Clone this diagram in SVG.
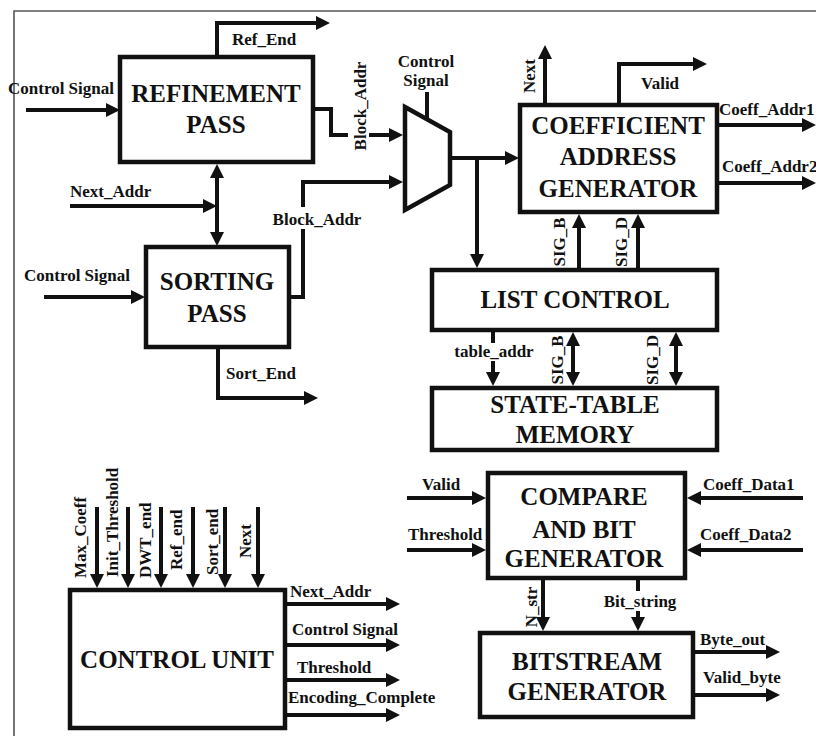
<svg xmlns="http://www.w3.org/2000/svg" width="816" height="736" viewBox="0 0 816 736">
<defs>
<style>
.box{fill:#fff;stroke:#111;stroke-width:4.5}
.w{fill:none;stroke:#111;stroke-width:4}
.a{marker-end:url(#ah)}
.b{marker-start:url(#ah);marker-end:url(#ah)}
text{font-family:'Liberation Serif','Times New Roman',serif;font-weight:bold;fill:#111}
.big{font-size:25px;text-anchor:middle}
.lb{font-size:17px}
.m{text-anchor:middle}
.bg{fill:#fff}
</style>
<marker id="ah" markerUnits="userSpaceOnUse" markerWidth="16" markerHeight="16" refX="9" refY="7" orient="auto-start-reverse">
<path d="M0,0 L14,7 L0,14 z" fill="#111"/>
</marker>
</defs>
<rect width="816" height="736" fill="#fff"/>
<path d="M14,736 V11 H816" fill="none" stroke="#555" stroke-width="1.6"/>

<g id="connectors">
<path class="w a" d="M26,110 H115"/>
<path class="w a" d="M217,57 V23 H325"/>
<path class="w a" d="M70,206 H212"/>
<path class="w b" d="M217,169 V241"/>
<path class="w a" d="M44,297 H140"/>
<path class="w a" d="M289,297 H303 V182 H398"/>
<path class="w a" d="M313,109 H331 V135 H398"/>
<path class="w" d="M427,92 V119"/>
<path class="w a" d="M450,158 H514"/>
<path class="w a" d="M477,158 V263"/>
<path class="w a" d="M545,105 V50"/>
<path class="w a" d="M619,105 V64 H702"/>
<path class="w a" d="M717,125 H811"/>
<path class="w a" d="M717,183 H811"/>
<path class="w a" d="M579,270 V219"/>
<path class="w a" d="M638,270 V219"/>
<path class="w a" d="M493,330 V381"/>
<path class="w b" d="M573,337 V381"/>
<path class="w b" d="M676,337 V381"/>
<path class="w a" d="M218,347 V398 H313"/>
<path class="w a" d="M97,507 V583"/>
<path class="w a" d="M128,507 V583"/>
<path class="w a" d="M161,507 V583"/>
<path class="w a" d="M193,507 V583"/>
<path class="w a" d="M225,507 V583"/>
<path class="w a" d="M258,507 V583"/>
<path class="w a" d="M285,604 H395"/>
<path class="w a" d="M285,645 H395"/>
<path class="w a" d="M285,680 H395"/>
<path class="w a" d="M285,715 H395"/>
<path class="w a" d="M407,498 H481"/>
<path class="w a" d="M407,550 H481"/>
<path class="w a" d="M803,498 H692"/>
<path class="w a" d="M803,550 H692"/>
<path class="w a" d="M543,578 V626"/>
<path class="w a" d="M638,578 V626"/>
<path class="w a" d="M693,652 H775"/>
<path class="w a" d="M693,695 H775"/>
</g>

<g id="refinement">
<rect class="box" x="120" y="57" width="193" height="105"/>
<text class="big" x="216" y="102">REFINEMENT</text>
<text class="big" x="216" y="133">PASS</text>
</g>
<g id="sorting">
<rect class="box" x="146" y="247" width="143" height="100"/>
<text class="big" x="217" y="290">SORTING</text>
<text class="big" x="217" y="322">PASS</text>
</g>
<g id="mux">
<polygon points="405,107 450,132 450,185 405,210" fill="#fff" stroke="#111" stroke-width="4.5" stroke-linejoin="miter"/>
</g>
<g id="coeff_addr_gen">
<rect class="box" x="520" y="105" width="197" height="107"/>
<text class="big" x="618" y="134">COEFFICIENT</text>
<text class="big" x="618" y="165">ADDRESS</text>
<text class="big" x="618" y="197">GENERATOR</text>
</g>
<g id="list_control">
<rect class="box" x="432" y="270" width="285" height="60"/>
<text class="big" x="575" y="308">LIST CONTROL</text>
</g>
<g id="state_table">
<rect class="box" x="432" y="388" width="285" height="62"/>
<text class="big" x="575" y="413">STATE-TABLE</text>
<text class="big" x="575" y="443">MEMORY</text>
</g>
<g id="control_unit">
<rect class="box" x="70" y="590" width="215" height="138"/>
<text class="big" x="177" y="668">CONTROL UNIT</text>
</g>
<g id="compare">
<rect class="box" x="488" y="473" width="197" height="105"/>
<text class="big" x="584" y="505">COMPARE</text>
<text class="big" x="584" y="538">AND BIT</text>
<text class="big" x="584" y="567">GENERATOR</text>
</g>
<g id="bitstream">
<rect class="box" x="480" y="633" width="213" height="84"/>
<text class="big" x="587" y="670">BITSTREAM</text>
<text class="big" x="587" y="700">GENERATOR</text>
</g>

<g id="labels">
<text class="lb" x="8" y="94">Control Signal</text>
<text class="lb" x="232" y="45">Ref_End</text>
<text class="lb" x="70" y="197">Next_Addr</text>
<text class="lb" x="24" y="281">Control Signal</text>
<rect class="bg" x="271" y="207" width="94" height="22"/>
<text class="lb m" x="317" y="225">Block_Addr</text>
<rect class="bg" x="348" y="61" width="21" height="91"/>
<text class="lb m" transform="translate(366,106) rotate(-90)">Block_Addr</text>
<text class="lb m" x="426" y="67">Control</text>
<text class="lb m" x="426" y="86">Signal</text>
<text class="lb m" transform="translate(535,76) rotate(-90)">Next</text>
<text class="lb m" x="660" y="89">Valid</text>
<text class="lb" x="719" y="115">Coeff_Addr1</text>
<text class="lb" x="722" y="172">Coeff_Addr2</text>
<text class="lb m" transform="translate(565,242) rotate(-90)">SIG_B</text>
<text class="lb m" transform="translate(627,242) rotate(-90)">SIG_D</text>
<rect class="bg" x="452" y="343" width="85" height="18"/>
<text class="lb m" x="494" y="357">table_addr</text>
<text class="lb m" transform="translate(563,360) rotate(-90)">SIG_B</text>
<text class="lb m" transform="translate(658,360) rotate(-90)">SIG_D</text>
<text class="lb" x="226" y="379">Sort_End</text>
<text class="lb" transform="translate(86,578) rotate(-90)">Max_Coeff</text>
<text class="lb" transform="translate(118,577) rotate(-90)">Init_Threshold</text>
<text class="lb" transform="translate(151,578) rotate(-90)">DWT_end</text>
<text class="lb" transform="translate(182,570) rotate(-90)">Ref_end</text>
<text class="lb" transform="translate(218,575) rotate(-90)">Sort_end</text>
<text class="lb" transform="translate(251,558) rotate(-90)">Next</text>
<text class="lb" x="290" y="597">Next_Addr</text>
<text class="lb" x="292" y="635">Control Signal</text>
<text class="lb" x="297" y="673">Threshold</text>
<text class="lb" x="288" y="703">Encoding_Complete</text>
<text class="lb" x="422" y="490">Valid</text>
<text class="lb" x="408" y="540">Threshold</text>
<text class="lb" x="703" y="490">Coeff_Data1</text>
<text class="lb" x="700" y="540">Coeff_Data2</text>
<text class="lb m" transform="translate(537,607) rotate(-90)">N_str</text>
<rect class="bg" x="601" y="591" width="78" height="20"/>
<text class="lb m" x="640" y="607">Bit_string</text>
<text class="lb" x="700" y="645">Byte_out</text>
<text class="lb" x="703" y="683">Valid_byte</text>
</g>
</svg>
